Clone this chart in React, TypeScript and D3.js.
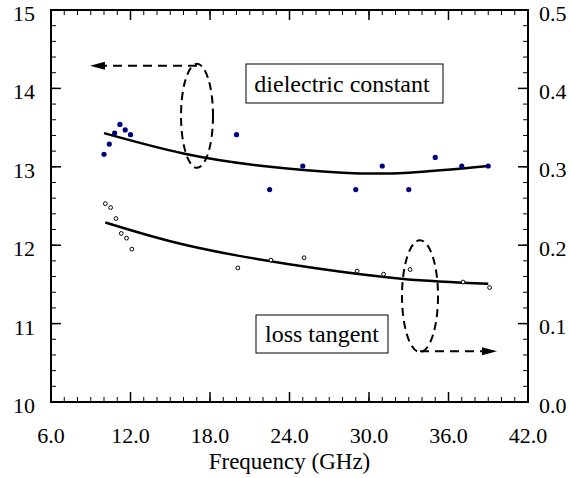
import React from "react";
import * as d3 from "d3";

const dielFreq = [10.0, 10.4, 10.8, 11.2, 11.6, 12.0, 20.0, 22.5, 25.0, 29.0, 31.0, 33.0, 35.0, 37.0, 39.0];
const dielValue = [13.16, 13.29, 13.43, 13.54, 13.47, 13.41, 13.41, 12.71, 13.01, 12.71, 13.01, 12.71, 13.12, 13.01, 13.01];
const lossFreq = [10.1, 10.5, 10.9, 11.3, 11.7, 12.1, 20.1, 22.6, 25.1, 29.1, 31.1, 33.1, 37.1, 39.1];
const lossValue = [0.253, 0.248, 0.234, 0.215, 0.209, 0.195, 0.171, 0.181, 0.184, 0.167, 0.163, 0.169, 0.153, 0.146];

const dielFitFreq = [10.0, 16.0, 22.0, 28.0, 33.0, 39.0];
const dielFitValue = [13.43, 13.17, 13.01, 12.925, 12.925, 13.01];
const lossFitFreq = [10.1, 15.0, 20.0, 26.0, 32.6, 39.0];
const lossFitValue = [0.229, 0.205, 0.187, 0.1705, 0.157, 0.1508];

const xTicks = [6, 12, 18, 24, 30, 36, 42];
const leftTicks = [10, 11, 12, 13, 14, 15];
const rightTicks = [0, 0.1, 0.2, 0.3, 0.4, 0.5];

const W = 571;
const H = 478;
const FONT = "Liberation Serif";

export default function App() {
  const x = d3.scaleLinear().domain([6, 42]).range([51, 528]);
  const yL = d3.scaleLinear().domain([10, 15]).range([402, 10]);
  const yR = d3.scaleLinear().domain([0, 0.5]).range([402, 10]);

  const dielFit = d3
    .line<number>()
    .x((_, i) => x(dielFitFreq[i]))
    .y((d) => yL(d))
    .curve(d3.curveNatural)(dielFitValue);
  const lossFit = d3
    .line<number>()
    .x((_, i) => x(lossFitFreq[i]))
    .y((d) => yR(d))
    .curve(d3.curveNatural)(lossFitValue);

  const minorX = d3.range(6, 42.001, 1);
  const minorY = d3.range(10, 15.001, 0.2);

  const [x0, x1] = x.range();
  const [yb, yt] = yL.range();

  const e1 = { cx: x(17.02), cy: yL(13.65), rx: 16, ry: 52 };
  const e2 = { cx: x(33.85), cy: yR(0.135), rx: 18, ry: 56 };
  const a1y = e1.cy - e1.ry + 2;
  const a1tip = x(8.94);
  const a2y = e2.cy + e2.ry - 1;
  const a2tip = x(39.66);

  const ts = { fontFamily: `"${FONT}"` };

  return (
    <svg width={W} height={H} fontFamily={FONT} style={{ position: "absolute", left: 0, top: 0, background: "#fff", fontFamily: `"${FONT}"` }}>
      <rect x={0} y={0} width={W} height={H} fill="#fff" />
      {minorX.map((v, i) => (
        <g key={"mx" + i} stroke="#000" strokeWidth={1}>
          <line x1={x(v)} x2={x(v)} y1={yb} y2={yb - 5} />
          <line x1={x(v)} x2={x(v)} y1={yt} y2={yt + 5} />
        </g>
      ))}
      {minorY.map((v, i) => (
        <g key={"my" + i} stroke="#000" strokeWidth={1}>
          <line x1={x0} x2={x0 + 5} y1={yL(v)} y2={yL(v)} />
          <line x1={x1} x2={x1 - 5} y1={yL(v)} y2={yL(v)} />
        </g>
      ))}
      {xTicks.map((v, i) => (
        <g key={"Mx" + i} stroke="#000" strokeWidth={1.5}>
          <line x1={x(v)} x2={x(v)} y1={yb} y2={yb - 10} />
          <line x1={x(v)} x2={x(v)} y1={yt} y2={yt + 10} />
        </g>
      ))}
      {leftTicks.map((v, i) => (
        <line key={"Ml" + i} stroke="#000" strokeWidth={1.5} x1={x0} x2={x0 + 10} y1={yL(v)} y2={yL(v)} />
      ))}
      {rightTicks.map((v, i) => (
        <line key={"Mr" + i} stroke="#000" strokeWidth={1.5} x1={x1} x2={x1 - 10} y1={yR(v)} y2={yR(v)} />
      ))}
      <rect x={x0} y={yt} width={x1 - x0} height={yb - yt} fill="none" stroke="#000" strokeWidth={2} />

      {xTicks.map((v, i) => (
        <text key={"tx" + i} x={x(v)} y={443} textAnchor="middle" fontSize={22} fontFamily={FONT} style={ts}>
          {v.toFixed(1)}
        </text>
      ))}
      {leftTicks.map((v, i) => (
        <text key={"tl" + i} x={35} y={yL(v) + 11} textAnchor="end" fontSize={22} fontFamily={FONT} style={ts}>
          {String(v)}
        </text>
      ))}
      {rightTicks.map((v, i) => (
        <text key={"tr" + i} x={539} y={yR(v) + 10.5} textAnchor="start" fontSize={22} fontFamily={FONT} style={ts}>
          {v.toFixed(1)}
        </text>
      ))}
      <text x={(x0 + x1) / 2} y={469} textAnchor="middle" fontSize={23} fontFamily={FONT} style={ts}>
        Frequency (GHz)
      </text>

      <path d={dielFit || ""} fill="none" stroke="#000" strokeWidth={2.5} />
      <path d={lossFit || ""} fill="none" stroke="#000" strokeWidth={2.5} />

      {dielValue.map((v, i) => (
        <circle key={"d" + i} cx={x(dielFreq[i])} cy={yL(v)} r={2.6} fill="#00007f" />
      ))}
      {lossValue.map((v, i) => (
        <circle key={"l" + i} cx={x(lossFreq[i])} cy={yR(v)} r={1.9} fill="#fff" stroke="#000" strokeWidth={1} />
      ))}

      <ellipse cx={e1.cx} cy={e1.cy} rx={e1.rx} ry={e1.ry} fill="none" stroke="#000" strokeWidth={2} strokeDasharray="8 5" />
      <line x1={e1.cx} x2={a1tip + 14} y1={a1y} y2={a1y} stroke="#000" strokeWidth={2} strokeDasharray="9 6" />
      <path d={`M${a1tip},${a1y} L${a1tip + 15},${a1y - 4} L${a1tip + 15},${a1y + 4} Z`} fill="#000" />

      <ellipse cx={e2.cx} cy={e2.cy} rx={e2.rx} ry={e2.ry} fill="none" stroke="#000" strokeWidth={2} strokeDasharray="8 5" />
      <line x1={e2.cx} x2={a2tip - 14} y1={a2y} y2={a2y} stroke="#000" strokeWidth={2} strokeDasharray="9 6" />
      <path d={`M${a2tip},${a2y} L${a2tip - 15},${a2y - 4} L${a2tip - 15},${a2y + 4} Z`} fill="#000" />

      <rect x={246} y={64} width={197} height={39} fill="#fff" stroke="#000" strokeWidth={1} />
      <text x={342} y={92} textAnchor="middle" fontSize={24} fontFamily={FONT} style={ts}>
        dielectric constant
      </text>
      <rect x={256} y={315} width={132} height={38} fill="#fff" stroke="#000" strokeWidth={1} />
      <text x={322} y={342} textAnchor="middle" fontSize={24} fontFamily={FONT} style={ts}>
        loss tangent
      </text>
    </svg>
  );
}
